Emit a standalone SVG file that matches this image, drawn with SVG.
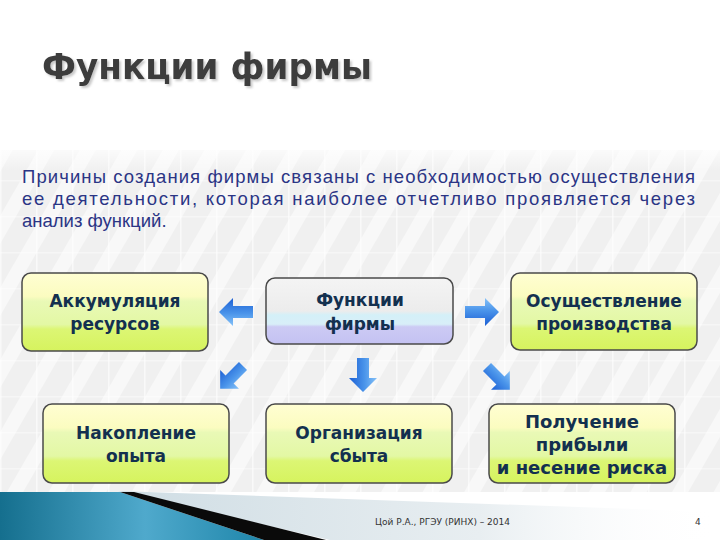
<svg xmlns="http://www.w3.org/2000/svg" width="720" height="540" viewBox="0 0 720 540">
<defs>
  <pattern id="stripes" width="36" height="36" patternUnits="userSpaceOnUse" patternTransform="rotate(30)">
    <rect width="36" height="36" fill="#f0f0f0"/>
    <rect width="14" height="36" fill="#f8f8f8"/>
  </pattern>
  <pattern id="grid" width="36" height="36" patternUnits="userSpaceOnUse">
    <rect x="0" y="0" width="1.5" height="36" fill="#ffffff" opacity="0.6"/>
    <rect x="0" y="0" width="36" height="1.5" fill="#ffffff" opacity="0.4"/>
  </pattern>
  <linearGradient id="panelFade" x1="0" y1="0" x2="0" y2="1">
    <stop offset="0" stop-color="#ffffff" stop-opacity="0.7"/>
    <stop offset="0.06" stop-color="#ffffff" stop-opacity="0"/>
    <stop offset="1" stop-color="#ffffff" stop-opacity="0"/>
  </linearGradient>
  <linearGradient id="green" x1="0" y1="0" x2="0" y2="1">
    <stop offset="0" stop-color="#fffed2"/>
    <stop offset="0.3" stop-color="#fbfcc0"/>
    <stop offset="0.36" stop-color="#e9f9b6"/>
    <stop offset="0.66" stop-color="#e3f8a4"/>
    <stop offset="0.72" stop-color="#dcf674"/>
    <stop offset="1" stop-color="#d6f35e"/>
  </linearGradient>
  <linearGradient id="violet" x1="0" y1="0" x2="0" y2="1">
    <stop offset="0" stop-color="#f4f4f4"/>
    <stop offset="0.5" stop-color="#ececec"/>
    <stop offset="0.56" stop-color="#d4f0f8"/>
    <stop offset="0.7" stop-color="#d8eef8"/>
    <stop offset="0.74" stop-color="#cccaf4"/>
    <stop offset="1" stop-color="#c4c2f2"/>
  </linearGradient>
  <linearGradient id="arrowGrad" x1="0" y1="0" x2="0" y2="1">
    <stop offset="0" stop-color="#86c2f8"/>
    <stop offset="0.45" stop-color="#4a94ea"/>
    <stop offset="1" stop-color="#1c5fd4"/>
  </linearGradient>
  <linearGradient id="teal" x1="0" y1="0" x2="1" y2="0">
    <stop offset="0" stop-color="#156f8e"/>
    <stop offset="0.55" stop-color="#4fa9cc"/>
    <stop offset="1" stop-color="#1f86aa"/>
  </linearGradient>
  <linearGradient id="greyband" x1="0" y1="0" x2="1" y2="0">
    <stop offset="0" stop-color="#cfdde4"/>
    <stop offset="0.6" stop-color="#e8eef1"/>
    <stop offset="1" stop-color="#ffffff" stop-opacity="0"/>
  </linearGradient>
  <filter id="tshadow" x="-5%" y="-20%" width="110%" height="140%">
    <feDropShadow dx="2" dy="2" stdDeviation="1" flood-color="#bbbbbb" flood-opacity="0.8"/>
  </filter>
  <polygon id="arrow" points="0,-6 20,-6 20,-14 34,0 20,14 20,6 0,6" fill="url(#arrowGrad)"/>
</defs>
<style>
  .box { stroke: #4a4a4a; stroke-width: 1.5; }
  .g { fill: url(#green); }
  .v { fill: url(#violet); }
  .lbl { font-family: "DejaVu Sans", Verdana, sans-serif; font-weight: bold; font-size: 17px; fill: #13304f; text-anchor: middle; }
  .para { font-family: "Liberation Sans", Arial, sans-serif; font-size: 18.5px; fill: #2b3585; }
  .foot { font-family: "DejaVu Sans", Tahoma, sans-serif; font-size: 9px; fill: #333333; }
</style>

<rect width="720" height="540" fill="#ffffff"/>
<!-- background panel -->
<rect x="0" y="150" width="720" height="342" fill="url(#stripes)"/>
<rect x="0" y="150" width="720" height="342" fill="url(#grid)"/>
<rect x="0" y="150" width="720" height="342" fill="url(#panelFade)"/>

<!-- title -->
<text x="42" y="79" font-family="DejaVu Sans, Verdana, sans-serif" font-weight="bold" font-size="35" fill="#3d3d3d" textLength="330" lengthAdjust="spacingAndGlyphs" filter="url(#tshadow)">Функции фирмы</text>

<!-- paragraph -->
<text class="para" x="22" y="183" textLength="673" lengthAdjust="spacing">Причины создания фирмы связаны с необходимостью осуществления</text>
<text class="para" x="22" y="205" textLength="673" lengthAdjust="spacing">ее деятельности, которая наиболее отчетливо проявляется через</text>
<text class="para" x="22" y="227">анализ функций.</text>

<!-- nodes -->
<g id="node-akkumulyaciya">
  <rect class="box g" x="22" y="273" width="186" height="78" rx="9"/>
  <text class="lbl" x="115" y="307">Аккумуляция</text>
  <text class="lbl" x="115" y="330">ресурсов</text>
</g>
<g id="node-funkcii">
  <rect class="box v" x="266" y="278" width="187" height="66" rx="9"/>
  <text class="lbl" x="360" y="306">Функции</text>
  <text class="lbl" x="360" y="330">фирмы</text>
</g>
<g id="node-osushchestvlenie">
  <rect class="box g" x="511" y="273" width="186" height="77" rx="9"/>
  <text class="lbl" x="604" y="307">Осуществление</text>
  <text class="lbl" x="604" y="330">производства</text>
</g>
<g id="node-nakoplenie">
  <rect class="box g" x="43" y="404" width="186" height="79" rx="9"/>
  <text class="lbl" x="136" y="439">Накопление</text>
  <text class="lbl" x="136" y="462">опыта</text>
</g>
<g id="node-organizaciya">
  <rect class="box g" x="266" y="404" width="186" height="79" rx="9"/>
  <text class="lbl" x="359" y="439">Организация</text>
  <text class="lbl" x="359" y="462">сбыта</text>
</g>
<g id="node-poluchenie">
  <rect class="box g" x="489" y="404" width="186" height="79" rx="9"/>
  <text class="lbl" x="582" y="428" style="font-size:18px">Получение</text>
  <text class="lbl" x="582" y="451" style="font-size:18px">прибыли</text>
  <text class="lbl" x="582" y="474" style="font-size:18px">и несение риска</text>
</g>

<!-- connectors -->
<g id="connectors">
  <use href="#arrow" transform="translate(253,312) rotate(180)"/>
  <use href="#arrow" transform="translate(465,312)"/>
  <use href="#arrow" transform="translate(363,358) rotate(90)"/>
  <use href="#arrow" transform="translate(243,366) rotate(135) scale(0.95)"/>
  <use href="#arrow" transform="translate(487,367) rotate(45) scale(0.95)"/>
</g>

<!-- footer decoration -->
<polygon points="118,491 720,512 720,540 330,540" fill="url(#greyband)"/>
<polygon points="0,492 120,492 264,540 0,540" fill="url(#teal)"/>
<polygon points="120,492 134,492 326,540 264,540" fill="#0a0a0a"/>

<text class="foot" x="375" y="525">Цой Р.А., РГЭУ (РИНХ) – 2014</text>
<text class="foot" x="695" y="525">4</text>
</svg>
